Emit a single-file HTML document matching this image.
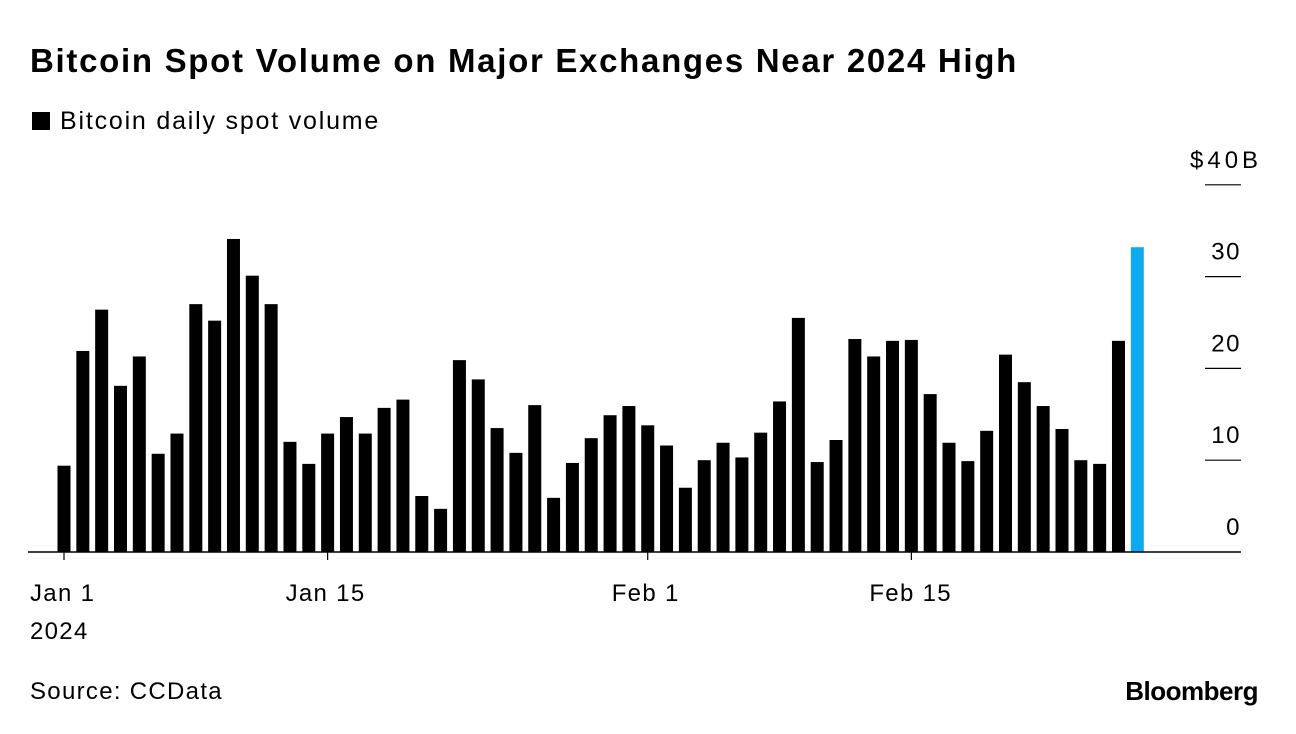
<!DOCTYPE html>
<html><head><meta charset="utf-8"><style>
body{margin:0;background:#fff;font-family:"Liberation Sans",Arial,sans-serif;}
#wrap{position:relative;width:1296px;height:734px;overflow:hidden;}
</style></head><body>
<div id="wrap">
<div style="position:absolute;left:30px;top:42px;font-size:33px;font-weight:bold;color:#000;letter-spacing:1.7px">Bitcoin Spot Volume on Major Exchanges Near 2024 High</div>
<div style="position:absolute;left:32px;top:107px;font-size:25px;color:#000;letter-spacing:1.8px"><span style="display:inline-block;width:18px;height:18px;background:#000;margin-right:10px;vertical-align:-1px"></span>Bitcoin daily spot volume</div>
<svg id="chart" width="1296" height="734" style="position:absolute;left:0;top:0"></svg>
<div style="position:absolute;left:30px;top:678px;font-size:24px;color:#000;letter-spacing:1.3px">Source: CCData</div>
<div style="position:absolute;right:38px;top:676px;font-size:26px;font-weight:bold;color:#000;letter-spacing:-0.5px">Bloomberg</div>
</div>
<script>
const values=[9.4,21.9,26.4,18.1,21.3,10.7,12.9,27.0,25.2,34.1,30.1,27.0,12.0,9.6,12.9,14.7,12.9,15.7,16.6,6.1,4.7,20.9,18.8,13.5,10.8,16.0,5.9,9.7,12.4,14.9,15.9,13.8,11.6,7.0,10.0,11.9,10.3,13.0,16.4,25.5,9.8,12.2,23.2,21.3,23.0,23.1,17.2,11.9,9.9,13.2,21.5,18.5,15.9,13.4,10.0,9.6,23.0,33.2];
const yTicks=[0,10,20,30,40];
const yTickLabels=["0","10","20","30","$40B"];
const xTickIdx=[0,14,31,45];
const xTickLabels=["Jan 1","Jan 15","Feb 1","Feb 15"];
const svg=document.getElementById('chart');
const NS='http://www.w3.org/2000/svg';
const x=i=>64+i*18.83;
const y=v=>552-v*9.18;
function mk(t,a){const e=document.createElementNS(NS,t);for(const k in a)e.setAttribute(k,a[k]);svg.appendChild(e);return e;}
yTicks.forEach((t,i)=>{
  if(t>0){const l=mk('line',{x1:1205,x2:1241,y1:y(t),y2:y(t),stroke:'#000','stroke-width':1.2});
  
  }
  const last=i===yTicks.length-1;
  const tx=mk('text',{x:last?1190:1241,y:y(t)-17,'text-anchor':last?'start':'end','font-size':24,fill:'#000','letter-spacing':last?4:1.5,'font-family':'Liberation Sans, sans-serif'});
  tx.textContent=yTickLabels[i];
  
  
});
values.forEach((v,i)=>{
  const r=mk('rect',{x:x(i)-6.5,y:y(v),width:13,height:552-y(v),fill:i===values.length-1?'#0eaaf0':'#000'});
  
  
});
const base=mk('line',{x1:28,x2:1241,y1:552,y2:552,stroke:'#000','stroke-width':1.5});


xTickIdx.forEach((d,i)=>{
  const l=mk('line',{x1:x(d),x2:x(d),y1:552,y2:560,stroke:'#000','stroke-width':1.2});
  
  
  const tx=mk('text',{x:i===0?30:x(d)-(i===2?36:42),y:601,'font-size':24,fill:'#000','letter-spacing':1.3,'font-family':'Liberation Sans, sans-serif'});
  tx.textContent=xTickLabels[i];
  
  
});
const yr=mk('text',{x:30,y:639,'font-size':24,fill:'#000','letter-spacing':1.3,'font-family':'Liberation Sans, sans-serif'});
yr.textContent='2024';


</script>
</body></html>
